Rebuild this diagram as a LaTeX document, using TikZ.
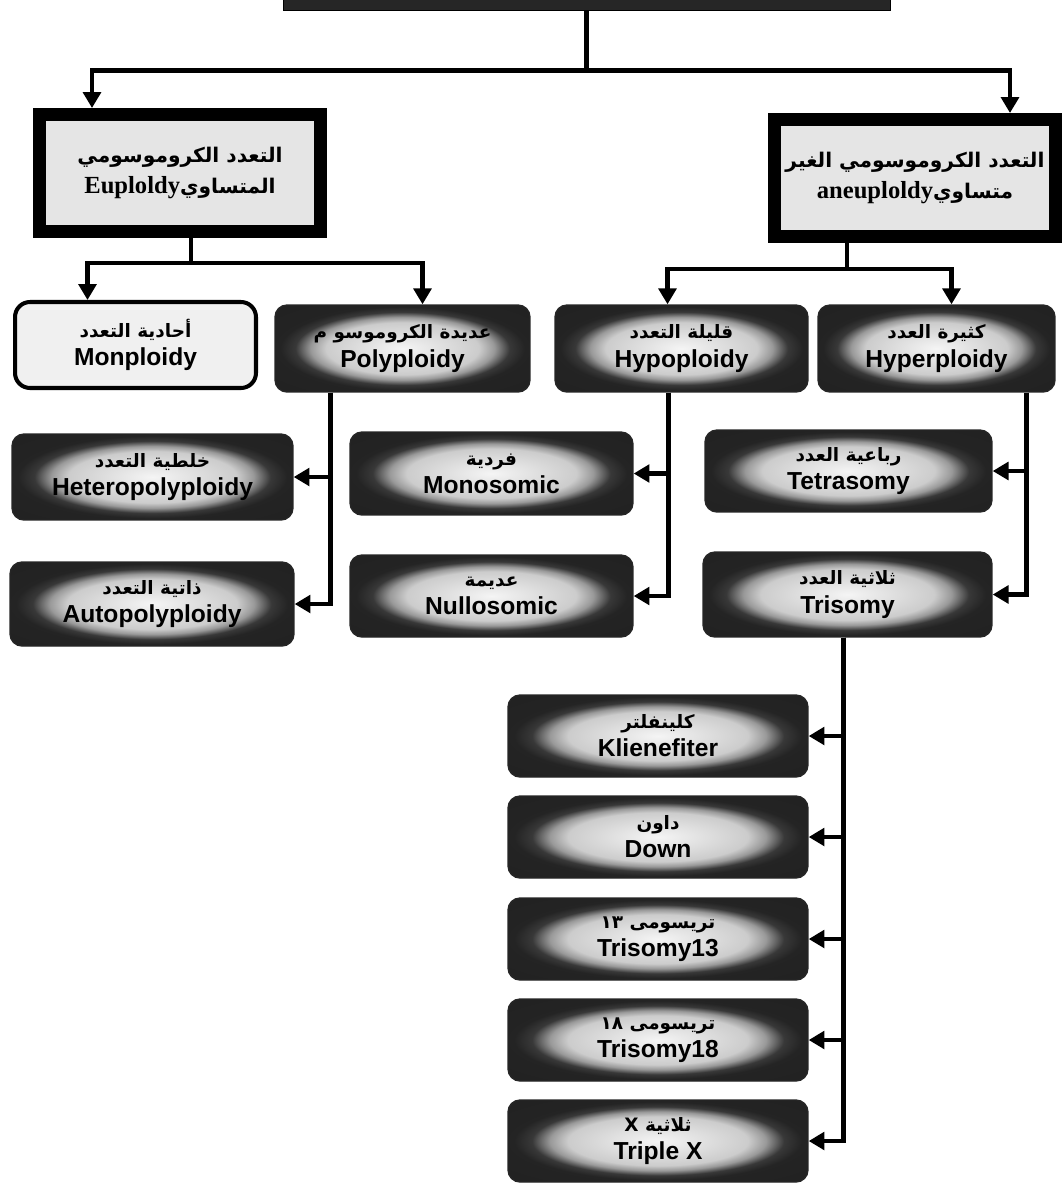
\documentclass[tikz,border=0pt]{standalone}
\usepackage{fontspec}
\setmainfont{Liberation Sans}
\newfontfamily\serifbf{Liberation Serif}
\newfontfamily\arabicfont[Script=Arabic]{DejaVu Sans}
\TeXXeTstate=1
\usetikzlibrary{arrows.meta,calc}
\pgfdeclareradialshading{glow}{\pgfpoint{0bp}{0bp}}{color(0bp)=(white!96!black); color(15bp)=(white!80!black); color(18bp)=(black!40); color(21bp)=(black!78); color(24bp)=(black!86); color(50bp)=(black!88)}
\newcommand{\artext}[1]{{\arabicfont\bfseries\fontsize{10.5}{16}\selectfont\beginR #1\endR}}
\newcommand{\entext}[1]{{\bfseries #1}}
\newcommand{\artop}[1]{{\arabicfont\bfseries\fontsize{11.5}{18}\selectfont\beginR #1\endR}}
\begin{document}
\begin{tikzpicture}[x=0.02cm, y=-0.02cm,
    box/.style={rounded corners=0.24cm, draw=black!85, line width=0.8pt, shade, shading=glow,
      align=center, inner sep=0pt, font=\fontsize{14}{16}\selectfont},
    mbox/.style={rounded corners=0.3cm, draw, line width=2.3pt, fill=black!6,
      align=center, inner sep=0pt, font=\fontsize{14}{16}\selectfont},
    tbox/.style={draw, line width=0.26cm, fill=black!10, align=center, inner sep=0pt,
      minimum width=5.64cm, minimum height=2.34cm, font=\fontsize{14}{18}\selectfont},
    link/.style={line width=2.6pt, -{Triangle[length=9pt,width=10pt]}}]
\useasboundingbox (0,0) rectangle (1063,1183);
\clip (0,0) rectangle (1063,1183);
\node[draw, fill=black!85, minimum width=12.14cm, minimum height=1.2cm] (root) at (586.5,-20) {};
\node[tbox] (eu) at (180,173) {\artop{التعدد الكروموسومي}\\
  {\arabicfont\bfseries\fontsize{11.5}{18}\selectfont\beginR المتساوي\beginL{\serifbf\bfseries\fontsize{14}{18}\selectfont Euploldy}\endL\endR}};
\node[tbox, minimum width=5.62cm] (an) at (915,178) {\artop{التعدد الكروموسومي الغير}\\
  {\arabicfont\bfseries\fontsize{11.5}{18}\selectfont\beginR متساوي\beginL{\serifbf\bfseries\fontsize{14}{18}\selectfont aneuploldy}\endL\endR}};
\node[mbox, minimum width=4.82cm, minimum height=1.72cm] (mono) at (135.5,345) {\artext{أحادية التعدد}\\\entext{Monploidy}};
\node[box, minimum width=5.1cm, minimum height=1.74cm] (poly) at (402.5,348.5) {\artext{عديدة الكروموسو م}\\\entext{Polyploidy}};
\node[box, minimum width=5.06cm, minimum height=1.74cm] (hypo) at (681.5,348.5) {\artext{قليلة التعدد}\\\entext{Hypoploidy}};
\node[box, minimum width=4.74cm, minimum height=1.74cm] (hyper) at (936.5,348.5) {\artext{كثيرة العدد}\\\entext{Hyperploidy}};
\node[box, minimum width=5.62cm, minimum height=1.72cm] (hetero) at (152.5,477) {\artext{خلطية التعدد}\\\entext{Heteropolyploidy}};
\node[box, minimum width=5.68cm, minimum height=1.68cm] (auto) at (152,604) {\artext{ذاتية التعدد}\\\entext{Autopolyploidy}};
\node[box, minimum width=5.66cm, minimum height=1.66cm] (monos) at (491.5,473.5) {\artext{فردية}\\\entext{Monosomic}};
\node[box, minimum width=5.66cm, minimum height=1.64cm] (nullos) at (491.5,596) {\artext{عديمة}\\\entext{Nullosomic}};
\node[box, minimum width=5.74cm, minimum height=1.64cm] (tetra) at (848.5,471) {\artext{رباعية العدد}\\\entext{Tetrasomy}};
\node[box, minimum width=5.78cm, minimum height=1.7cm] (tri) at (847.5,594.5) {\artext{ثلاثية العدد}\\\entext{Trisomy}};
\draw[link] (root.south) -- ++(0,60) -| ($(eu.north)+(-88,0)$);
\draw[link] (root.south) -- ++(0,60) -| ($(an.north)+(95,0)$);
\draw[link] ($(eu.south)+(11,0)$) -- ++(0,25) -| ($(mono.north)+(-48,0)$);
\draw[link] ($(eu.south)+(11,0)$) -- ++(0,25) -| ($(poly.north)+(20,0)$);
\draw[link] ($(an.south)+(-68,0)$) -- ++(0,26) -| ($(hypo.north)+(-14,0)$);
\draw[link] ($(an.south)+(-68,0)$) -- ++(0,26) -| ($(hyper.north)+(15,0)$);
\draw[link] ($(poly.south)+(-72,0)$) |- (hetero.east);
\draw[link] ($(poly.south)+(-72,0)$) |- (auto.east);
\draw[link] ($(hypo.south)+(-13,0)$) |- (monos.east);
\draw[link] ($(hypo.south)+(-13,0)$) |- (nullos.east);
\draw[link] ($(hyper.south)+(90,0)$) |- (tetra.east);
\draw[link] ($(hyper.south)+(90,0)$) |- (tri.east);
\foreach \n/\y/\a/\e in {kl/736/كلينفلتر/Klienefiter, dn/837/داون/Down,
    t13/939/تريسومى \beginL١٣\endL/Trisomy13, t18/1040/تريسومى \beginL١٨\endL/Trisomy18,
    tx/1141/ثلاثية X/Triple X}{
  \node[box, minimum width=6cm, minimum height=1.64cm] (\n) at (658,\y) {\artext{\a}\\\entext{\e}};
  \draw[link] ($(tri.south)+(-4,0)$) |- (\n.east);
}
\end{tikzpicture}
\end{document}
